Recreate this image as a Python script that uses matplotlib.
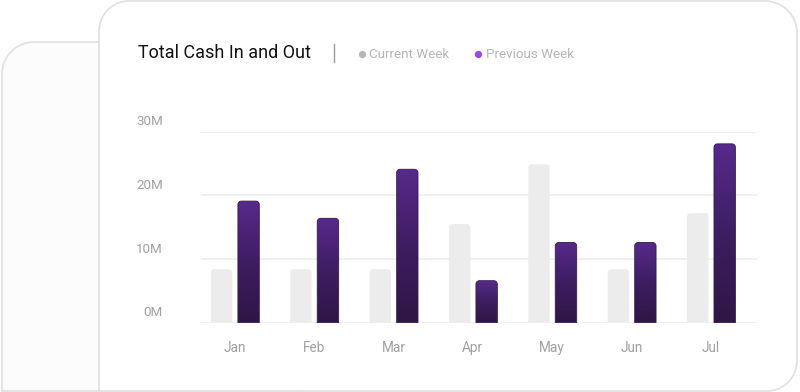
import numpy as np
import matplotlib
matplotlib.use('Agg')
import matplotlib.pyplot as plt
from matplotlib.patches import Polygon
from matplotlib.colors import LinearSegmentedColormap

plt.rcParams['font.family'] = ['Roboto', 'DejaVu Sans']

months = ['Jan', 'Feb', 'Mar', 'Apr', 'May', 'Jun', 'Jul']
current_week = [8.4, 8.4, 8.4, 15.5, 24.9, 8.4, 17.2]
previous_week = [19.1, 16.4, 24.1, 6.6, 12.6, 12.6, 28.1]
y_ticks = [0, 10, 20, 30]
y_labels = ['0M', '10M', '20M', '30M']

W, H = 800, 392
fig = plt.figure(figsize=(W / 100, H / 100), dpi=100)
fig.patch.set_facecolor('white')


def rounded_poly(x0, y0, x1, y1, r_tl=0, r_tr=0, r_br=0, r_bl=0, n=16):
    # corner arcs, y axis pointing down (pixel space)
    pts = []
    for cx, cy, r, a0 in [(x0 + r_tl, y0 + r_tl, r_tl, 180), (x1 - r_tr, y0 + r_tr, r_tr, 270),
                          (x1 - r_br, y1 - r_br, r_br, 0), (x0 + r_bl, y1 - r_bl, r_bl, 90)]:
        t = np.radians(np.linspace(a0, a0 + 90, n))
        pts += list(zip(cx + r * np.cos(t), cy + r * np.sin(t)))
    return np.array(pts)


# background cards (pixel space)
bg = fig.add_axes([0, 0, 1, 1], zorder=-5)
bg.set_xlim(0, W)
bg.set_ylim(H, 0)
bg.axis('off')
bg.add_patch(Polygon(rounded_poly(2, 42, 300, 391, r_tl=32), closed=True,
                     facecolor='#fcfcfc', edgecolor='#e2e2e2', lw=1.3))
bg.add_patch(Polygon(rounded_poly(99, 1, 797, 391, r_tl=30, r_tr=32, r_br=30), closed=True,
                     facecolor='white', edgecolor='#e2e2e2', lw=1.3))

# header
bg.text(138, 53, 'Total Cash In and Out', fontsize=13, color='#111111', va='center', ha='left')
bg.plot([334, 334], [44, 62], color='#9a9a9a', lw=1)
bg.scatter([361.5], [54], s=28, color='#b7b7b7', lw=0)
bg.text(369, 54, 'Current Week', fontsize=9.6, color='#b5b5b5', va='center', ha='left')
bg.scatter([477.5], [54], s=28, color='#9a4ce0', lw=0)
bg.text(486, 54, 'Previous Week', fontsize=9.6, color='#b5b5b5', va='center', ha='left')

# chart area
base_y, top_y = 322.7, 131.7
left_x, right_x = 201, 757
label0, step = 234.7, 79.35
ax = fig.add_axes([left_x / W, 1 - base_y / H, (right_x - left_x) / W, (base_y - top_y) / H])
ax.patch.set_alpha(0)
xlim = ((left_x - label0) / step, (right_x - label0) / step)
ylim = (0, 30)
ax.set_xlim(*xlim)
ax.set_ylim(*ylim)
for s in ax.spines.values():
    s.set_visible(False)
ax.set_xticks([])
ax.set_yticks([])

for v, lbl in zip(y_ticks, y_labels):
    ax.axhline(v, color='#efefef', lw=1.3, zorder=0)
    ax.annotate(lbl, xy=(0, v), xycoords=('axes fraction', 'data'), xytext=(-38 * 0.72, 10 * 0.72),
                textcoords='offset points', ha='right', va='center', fontsize=9.6, color='#a0a0a0')

x = np.arange(len(months))
for i, m in enumerate(months):
    ax.annotate(m, xy=(i, 0), xycoords=('data', 'axes fraction'), xytext=(0, -25.6 * 0.72),
                textcoords='offset points', ha='center', va='center', fontsize=9.8, color='#a0a0a0')

# px per data unit
sx = (right_x - left_x) / (xlim[1] - xlim[0])
sy = (base_y - top_y) / (ylim[1] - ylim[0])
bar_w = 0.27
radius = 3.5
rx, ry = radius / sx, radius / sy


def bar_path(xc, h):
    t = np.radians(np.linspace(0, 90, 12))
    x0, x1 = xc - bar_w / 2, xc + bar_w / 2
    pts = [(x0, 0)]
    pts += list(zip(x0 + rx - rx * np.cos(t), h - ry + ry * np.sin(t)))
    pts += list(zip(x1 - rx + rx * np.sin(t), h - ry + ry * np.cos(t)))
    pts += [(x1, 0)]
    return np.array(pts)


purple_cmap = LinearSegmentedColormap.from_list('pur', ['#2f1645', '#3f1d61', '#572a8c'])
grad = np.linspace(0, 1, 256).reshape(-1, 1)

for xi, v in zip(x, current_week):
    ax.add_patch(Polygon(bar_path(xi - 0.165, v), closed=True, facecolor='#ececec', lw=0, zorder=2))

for xi, v in zip(x, previous_week):
    xc = xi + 0.175
    poly = Polygon(bar_path(xc, v), closed=True, facecolor='none', edgecolor='#341a52', lw=0.6, zorder=4)
    ax.add_patch(poly)
    im = ax.imshow(grad, cmap=purple_cmap, origin='lower', aspect='auto',
                   extent=(xc - bar_w / 2, xc + bar_w / 2, 0, v), zorder=3)
    im.set_clip_path(poly)

ax.set_xlim(*xlim)
ax.set_ylim(*ylim)

fig.savefig('out.png', dpi=100, facecolor='white')
